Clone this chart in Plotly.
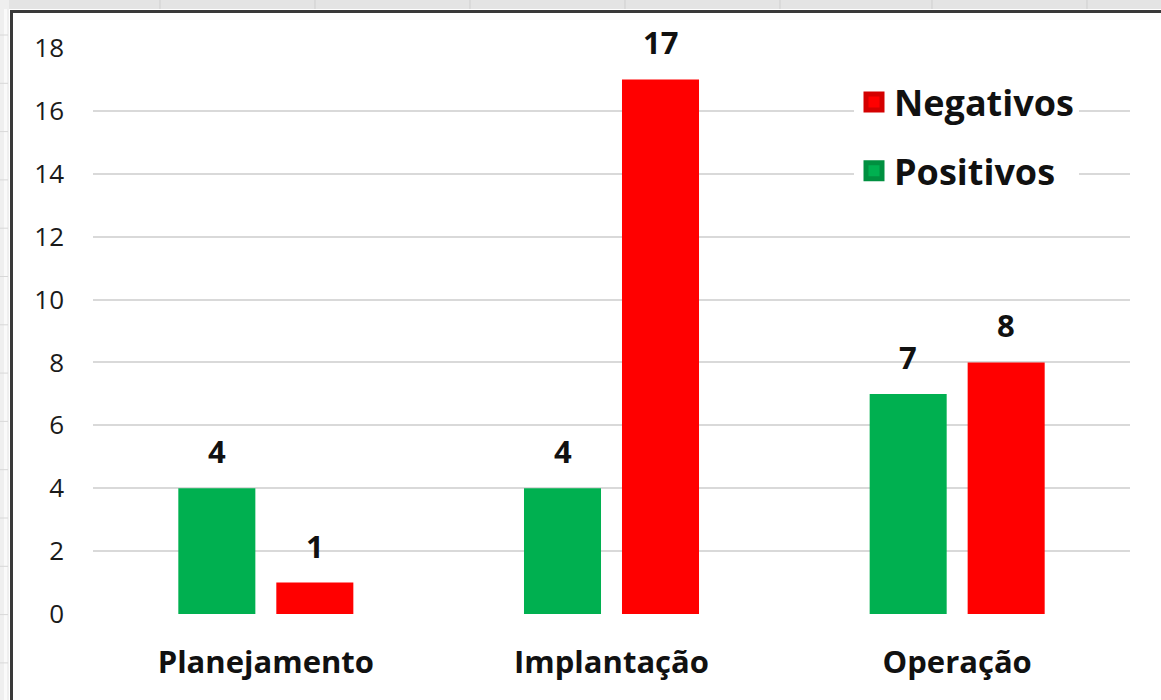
import plotly.graph_objects as go

# Data
categories = ["Planejamento", "Implantação", "Operação"]
positivos = [4, 4, 7]
negativos = [1, 17, 8]
y_ticks = [0, 2, 4, 6, 8, 10, 12, 14, 16, 18]

GREEN = "#00B050"
RED = "#FF0000"
W, H = 1161, 700
L, R, T, B = 93, 31, 48, 86  # plot margins in px

def px_x(p):
    return (p - L) / (W - L - R)

def px_y(p):
    return (H - B - p) / (H - T - B)

fig = go.Figure()
fig.add_trace(go.Bar(name="Positivos", x=categories, y=positivos,
                     marker=dict(color=GREEN, line=dict(width=0)), showlegend=False))
fig.add_trace(go.Bar(name="Negativos", x=categories, y=negativos,
                     marker=dict(color=RED, line=dict(width=0)), showlegend=False))

# Legend entries with larger square swatches
fig.add_trace(go.Scatter(name="Negativos", x=[None], y=[None], mode="markers",
                         legendgroup="neg",
                         marker=dict(symbol="square", size=16, color=RED,
                                     line=dict(color="#D40000", width=5))))
fig.add_trace(go.Scatter(name="Positivos", x=[None], y=[None], mode="markers",
                         legendgroup="pos",
                         marker=dict(symbol="square", size=16, color=GREEN,
                                     line=dict(color="#009040", width=5))))

# Value labels above each bar
label_font = dict(family="Open Sans", size=31, color="#111111", weight="bold")
for cat, p, n in zip(categories, positivos, negativos):
    for val, shift in ((p, -49), (n, 49)):
        fig.add_annotation(x=cat, y=val, text=str(val), showarrow=False,
                           xshift=shift, yshift=37, yanchor="middle",
                           font=label_font)

shapes = []
# Spreadsheet strips around the chart frame
shapes.append(dict(type="rect", xref="paper", yref="paper", layer="below",
                   x0=px_x(0), x1=px_x(W), y0=px_y(0), y1=px_y(9),
                   fillcolor="#e4e4e4", line=dict(width=0)))
shapes.append(dict(type="rect", xref="paper", yref="paper", layer="below",
                   x0=px_x(0), x1=px_x(9), y0=px_y(0), y1=px_y(H),
                   fillcolor="#efefef", line=dict(width=0)))
shapes.append(dict(type="rect", xref="paper", yref="paper", layer="below",
                   x0=px_x(4), x1=px_x(7), y0=px_y(9), y1=px_y(H),
                   fillcolor="#fafafa", line=dict(width=0)))
for cx in (160, 315, 470, 625, 780, 932, 1087):
    shapes.append(dict(type="line", xref="paper", yref="paper", layer="below",
                       x0=px_x(cx), x1=px_x(cx), y0=px_y(0), y1=px_y(9),
                       line=dict(color="#cfcfcf", width=1)))
for k in range(14):
    cy = 35 + 48.3 * k
    shapes.append(dict(type="line", xref="paper", yref="paper", layer="below",
                       x0=px_x(0), x1=px_x(8), y0=px_y(cy), y1=px_y(cy),
                       line=dict(color="#d8d8d8", width=1)))
# Chart frame border
shapes.append(dict(type="line", xref="paper", yref="paper",
                   x0=px_x(10), x1=px_x(W), y0=px_y(11.5), y1=px_y(11.5),
                   line=dict(color="#3a3a3a", width=3)))
shapes.append(dict(type="line", xref="paper", yref="paper",
                   x0=px_x(11.5), x1=px_x(11.5), y0=px_y(10), y1=px_y(H),
                   line=dict(color="#3a3a3a", width=3)))

fig.update_layout(
    width=W, height=H,
    margin=dict(l=L, r=R, t=T, b=B, pad=0),
    paper_bgcolor="white", plot_bgcolor="white",
    barmode="group", bargap=0.433, bargroupgap=0.214,
    shapes=shapes,
    legend=dict(x=px_x(854), y=px_y(72), xanchor="left", yanchor="top",
                bgcolor="white", borderwidth=0,
                font=dict(family="Open Sans", size=36, color="#111111", weight="bold"),
                traceorder="grouped", tracegroupgap=19),
    xaxis=dict(showgrid=False, zeroline=False, showline=False, ticks="",
               ticklabelstandoff=27,
               tickfont=dict(family="Open Sans", size=31, color="#111111", weight="bold")),
    yaxis=dict(range=[0, 18], tickvals=y_ticks, showgrid=True,
               gridcolor="#d9d9d9", gridwidth=2, zeroline=False, showline=False,
               ticks="", ticklabelstandoff=28,
               tickfont=dict(family="Open Sans", size=26, color="#1a1a1a")),
)
fig.update_traces(cliponaxis=False, selector=dict(type="bar"))

fig.write_html("out.html")
